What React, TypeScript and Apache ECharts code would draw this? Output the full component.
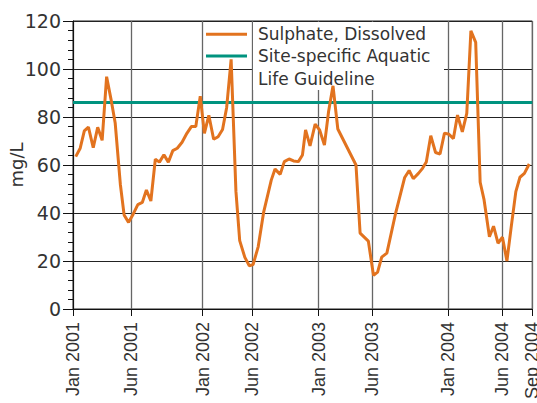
import React, { useEffect, useRef } from "react";
import * as echarts from "echarts";

// Sample dates as day offsets from 1 Jan 2001
const sampleDay = [
  8, 21, 33, 45, 59, 72, 85, 98, 112, 123, 138, 149, 162, 175, 189, 202, 214, 227,
  240, 252, 265, 278, 291, 304, 318, 332, 345, 358, 371, 383, 396, 410, 423, 436,
  448, 461, 475, 486, 501, 514, 525, 540, 556, 578, 589, 604, 616, 630, 643, 657,
  669, 678, 691, 706, 719, 733, 745, 758, 772, 825, 837, 861, 876, 888, 900, 915,
  941, 967, 980, 992, 1007, 1019, 1030, 1043, 1057, 1070, 1083, 1096, 1109, 1121,
  1135, 1148, 1160, 1174, 1187, 1198, 1214, 1226, 1239, 1252, 1265, 1277, 1291,
  1303, 1316, 1330,
];

// Sulphate, dissolved (mg/L)
const sulphate = [
  63.5, 67, 74.2, 75.8, 67.2, 75.7, 70.3, 96.8, 86.5, 77.5, 52, 39.2, 36.1, 39.4,
  43.5, 44.4, 49.6, 45, 62.4, 61.2, 64.3, 61.2, 66, 67, 69.5, 73.2, 76, 76, 88.7,
  73.2, 80.7, 70.7, 71.8, 74.8, 84, 104, 49, 28.5, 21.5, 18, 18.5, 26, 40.5, 53.7,
  58.3, 56.1, 61.4, 62.5, 61.7, 61.4, 64.2, 74.6, 68, 77, 74.6, 68.3, 82.2, 93, 75,
  60, 31.6, 28.3, 14, 15.4, 21.6, 23.3, 40.2, 54.8, 57.7, 54.3, 56.5, 58.6, 61.3,
  72.2, 65.2, 64.6, 73.3, 72.8, 71, 80.8, 73.8, 81.5, 115.9, 111.1, 52.8, 45.8,
  30.1, 34.5, 27.4, 29.9, 20, 33.6, 48.9, 54.9, 56.5, 60.4,
];

const guidelineValue = 86;

// X-axis ticks (day offsets) and their labels
const tickDays = [0, 169, 378, 522, 716, 871, 1094, 1250, 1339];
const tickLabels = [
  "Jan 2001", "Jun 2001", "Jan 2002", "Jun 2002", "Jan 2003",
  "Jun 2003", "Jan 2004", "Jun 2004", "Sep 2004",
];

const SULPHATE = "Sulphate, Dissolved";
const GUIDELINE = "Site-specific Aquatic Life Guideline";

export default function App() {
  const ref = useRef<HTMLDivElement>(null);

  useEffect(() => {
    document.body.style.margin = "0";
    if (!ref.current) return;
    const chart = echarts.init(ref.current, null, { renderer: "svg" });
    const xMin = tickDays[0];
    const xMax = tickDays[tickDays.length - 1];
    const textColor = "#333";

    chart.setOption({
      animation: false,
      backgroundColor: "#fff",
      grid: {
        left: 73,
        right: 4.7,
        top: 21,
        bottom: 94,
        containLabel: false,
        outerBoundsMode: "none",
        show: true,
        borderColor: "#222",
        borderWidth: 1,
      },
      graphic: [
        {
          type: "rect",
          left: 253,
          top: 22,
          z: 1,
          shape: { width: 191, height: 68 },
          style: { fill: "#fff" },
          silent: true,
        },
      ],
      legend: [
        {
          data: [SULPHATE],
          left: 206,
          top: 22.8,
          padding: 0,
          icon: "rect",
          itemWidth: 41,
          itemHeight: 3,
          selectedMode: false,
          textStyle: {
            fontFamily: "DejaVu Sans",
            fontSize: 17,
            color: textColor,
            lineHeight: 23,
            padding: [0, 0, 0, 6],
          },
        },
        {
          data: [GUIDELINE],
          left: 206,
          top: 21.5,
          padding: 0,
          icon: "rect",
          itemWidth: 41,
          itemHeight: 3,
          selectedMode: false,
          formatter: () => " \nSite-specific Aquatic\nLife Guideline",
          textStyle: {
            fontFamily: "DejaVu Sans",
            fontSize: 17,
            color: textColor,
            lineHeight: 23,
            padding: [0, 0, 0, 6],
          },
        },
      ],
      xAxis: {
        type: "value",
        min: xMin,
        max: xMax,
        axisLine: { show: true, lineStyle: { color: "#111", width: 1 } },
        axisTick: {
          show: true,
          customValues: tickDays,
          length: 7,
          lineStyle: { color: "#111", width: 1 },
        },
        axisLabel: {
          customValues: tickDays,
          rotate: 90,
          margin: 13,
          fontFamily: "Liberation Sans",
          fontSize: 18,
          color: textColor,
          formatter: (v: number) => {
            const i = tickDays.findIndex((d) => Math.abs(d - v) < 0.5);
            return i >= 0 ? tickLabels[i] : "";
          },
        },
        splitLine: { show: true, lineStyle: { color: "#666", width: 1.3 } },
      },
      yAxis: {
        type: "value",
        min: 0,
        max: 120,
        interval: 20,
        name: "mg/L",
        nameLocation: "middle",
        nameRotate: 90,
        nameGap: 48,
        nameMoveOverlap: false,
        nameTextStyle: { fontFamily: "DejaVu Sans", fontSize: 18, color: textColor },
        axisLine: { show: true, lineStyle: { color: "#111", width: 1 } },
        axisTick: { show: true, length: 10, lineStyle: { color: "#111" } },
        minorTick: { show: true, splitNumber: 5, length: 5, lineStyle: { color: "#111" } },
        axisLabel: {
          margin: 12,
          fontFamily: "DejaVu Sans",
          fontSize: 19,
          color: textColor,
        },
        splitLine: { show: true, lineStyle: { color: "#222", width: 1 } },
      },
      series: [
        {
          name: GUIDELINE,
          type: "line",
          data: [
            [xMin, guidelineValue],
            [xMax, guidelineValue],
          ],
          color: "#00937f",
          showSymbol: false,
          lineStyle: { width: 3, color: "#00937f" },
          z: 2,
          silent: true,
        },
        {
          name: SULPHATE,
          type: "line",
          data: sampleDay.map((d, i) => [d, sulphate[i]]),
          color: "#e2731f",
          showSymbol: false,
          lineStyle: { width: 3, color: "#e2731f" },
          z: 3,
          silent: true,
        },
      ],
    });

    return () => chart.dispose();
  }, []);

  return <div ref={ref} style={{ width: 537, height: 403 }} />;
}
